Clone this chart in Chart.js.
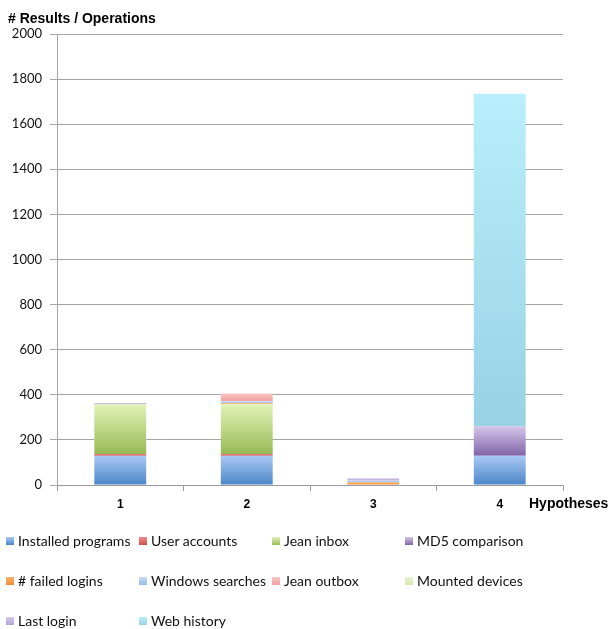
<!DOCTYPE html>
<html>
<head>
<meta charset="utf-8">
<script src="https://cdn.jsdelivr.net/npm/chart.js@4"></script>
<style>
  html, body { margin: 0; padding: 0; background: #fff; }
  #wrap { position: relative; width: 614px; height: 629px; }
  #cv { position: absolute; left: 0; top: 0; width: 614px; height: 520px; }
  #legend { position: absolute; left: 0; top: 0; width: 614px; height: 629px; pointer-events: none;
            font-family: Lato, "Liberation Sans", sans-serif; font-size: 14px; color: #111; }
  .li { position: absolute; white-space: nowrap; line-height: 16px; height: 16px; }
  .sw { display: inline-block; width: 8px; height: 8px; margin-right: 4px; vertical-align: 1px; }
</style>
</head>
<body>
<div id="wrap">
  <div id="cv"><canvas id="chart"></canvas></div>
  <div id="legend"></div>
</div>
<script>
const categories = ['1', '2', '3', '4'];
const yTicks = [0, 200, 400, 600, 800, 1000, 1200, 1400, 1600, 1800, 2000];
const seriesNames = ['Installed programs', 'User accounts', 'Jean inbox', 'MD5 comparison',
  '# failed logins', 'Windows searches', 'Jean outbox', 'Mounted devices', 'Last login', 'Web history'];
const installedPrograms = [130, 130, 0, 130];
const userAccounts      = [8, 8, 0, 0];
const jeanInbox         = [220, 220, 0, 0];
const md5Comparison     = [0, 0, 0, 130];
const failedLogins      = [0, 5, 12, 0];
const windowsSearches   = [0, 8, 8, 0];
const jeanOutbox        = [0, 35, 0, 0];
const mountedDevices    = [0, 0, 0, 0];
const lastLogin         = [6, 0, 10, 0];
const webHistory        = [0, 0, 0, 1475];
const seriesValues = [installedPrograms, userAccounts, jeanInbox, md5Comparison, failedLogins,
  windowsSearches, jeanOutbox, mountedDevices, lastLogin, webHistory];
// [top, bottom] gradient colours
const seriesColors = [
  ['#aac9f6', '#4b86c8'],
  ['#f08a86', '#d0504c'],
  ['#e2f3b8', '#98ba55'],
  ['#d4c6ea', '#8263a8'],
  ['#fdb46e', '#f28a36'],
  ['#c4dafa', '#9bbbe8'],
  ['#f8c4c4', '#f0a0a0'],
  ['#eaf6d0', '#d3e6b3'],
  ['#d6caec', '#b4a4d6'],
  ['#b9effc', '#98d2e3']
];

function gradientFor(top, bottom) {
  return (ctx) => {
    const chart = ctx.chart;
    const ca = chart.chartArea;
    const ys = chart.scales && chart.scales.y;
    if (!ca || !ys || ctx.type !== 'data') return bottom;
    const i = ctx.dataIndex;
    let base = 0;
    for (let d = 0; d < ctx.datasetIndex; d++) base += chart.data.datasets[d].data[i];
    const v = ctx.dataset.data[i];
    const y0 = ys.getPixelForValue(base);
    const y1 = ys.getPixelForValue(base + v);
    if (!isFinite(y0) || !isFinite(y1) || Math.abs(y0 - y1) < 0.5) return bottom;
    const g = chart.ctx.createLinearGradient(0, y1, 0, y0);
    g.addColorStop(0, top);
    g.addColorStop(1, bottom);
    return g;
  };
}

const datasets = seriesNames.map((name, k) => ({
  label: name,
  data: seriesValues[k],
  backgroundColor: gradientFor(seriesColors[k][0], seriesColors[k][1]),
  borderWidth: 0,
  categoryPercentage: 1.0,
  barPercentage: 0.41
}));

const textPlugin = {
  id: 'texts',
  afterDraw(chart) {
    const c = chart.ctx;
    c.save();
    c.fillStyle = '#000';
    c.font = 'bold 14px "Liberation Sans", Arial, sans-serif';
    c.textBaseline = 'middle';
    c.textAlign = 'left';
    c.fillText('# Results / Operations', 8, 19);
    c.fillText('Hypotheses', chart.chartArea.right - 34, 504);
    c.restore();
  }
};

new Chart(document.getElementById('chart'), {
  type: 'bar',
  data: { labels: categories, datasets },
  plugins: [textPlugin],
  options: {
    responsive: true,
    maintainAspectRatio: false,
    animation: false,
    layout: { padding: { left: 0, right: 51, top: 34, bottom: 0 } },
    plugins: { legend: { display: false }, tooltip: { enabled: false }, title: { display: false } },
    scales: {
      x: {
        stacked: true,
        offset: true,
        grid: { display: true, drawOnChartArea: false, offset: true, tickLength: 6, color: '#9a9a9a' },
        border: { color: '#9a9a9a' },
        ticks: { color: '#000', padding: 6, font: { family: '"Liberation Sans", Arial, sans-serif', size: 12, weight: 'bold' } },
        afterFit(scale) { scale.height = 35; }
      },
      y: {
        stacked: true,
        min: yTicks[0],
        max: yTicks[yTicks.length - 1],
        afterBuildTicks(scale) { scale.ticks = yTicks.map(v => ({ value: v })); },
        grid: { color: '#a5a5a5', tickLength: 7 },
        border: { color: '#a5a5a5' },
        ticks: { color: '#111', padding: 8, font: { family: 'Lato, sans-serif', size: 13 },
                 callback: (v) => String(v) },
        afterFit(scale) { scale.width = 57; }
      }
    }
  }
});

// HTML legend built from the series arrays
const legend = document.getElementById('legend');
seriesNames.forEach((name, k) => {
  const col = k % 4, row = Math.floor(k / 4);
  const el = document.createElement('div');
  el.className = 'li';
  el.style.left = (6 + col * 133) + 'px';
  el.style.top = (533 + row * 40) + 'px';
  const sw = document.createElement('span');
  sw.className = 'sw';
  sw.style.background = 'linear-gradient(' + seriesColors[k][0] + ',' + seriesColors[k][1] + ')';
  el.appendChild(sw);
  el.appendChild(document.createTextNode(name));
  legend.appendChild(el);
});
</script>
</body>
</html>
